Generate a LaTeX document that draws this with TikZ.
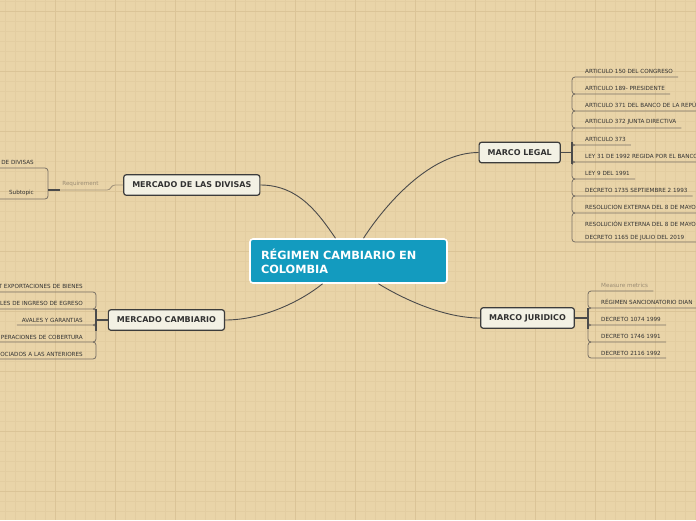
\documentclass[tikz,border=0pt]{standalone}
\usepackage{fontspec}
\setmainfont{DejaVu Sans}
\usetikzlibrary{calc}
\definecolor{bgc}{RGB}{233,212,168}
\definecolor{gridminor}{RGB}{227,205,161}
\definecolor{gridmajor}{RGB}{219,196,151}
\definecolor{centerfill}{RGB}{19,155,191}
\definecolor{topicfill}{RGB}{243,241,228}
\definecolor{topicdraw}{RGB}{60,60,60}
\definecolor{conn}{RGB}{75,75,75}
\definecolor{itemline}{RGB}{120,112,100}
\definecolor{itemtext}{RGB}{50,50,50}
\definecolor{labeltext}{RGB}{155,140,115}
\definecolor{relline}{RGB}{165,150,125}
\begin{document}
\begin{tikzpicture}[x=1pt,y=-1pt,
  centerbox/.style={draw=white, line width=1.6pt, fill=centerfill, rounded corners=3pt, text=white, font=\fontsize{11.3}{14}\selectfont\bfseries, align=left, text width=175pt, inner xsep=11pt, minimum height=44pt, inner ysep=0pt},
  topicbox/.style={draw=topicdraw, line width=1.2pt, fill=topicfill, rounded corners=2.5pt, text=itemtext, font=\fontsize{8}{9}\selectfont\bfseries, inner xsep=8.5pt, minimum height=20.5pt, inner ysep=0pt},
  itemtxt/.style={font=\fontsize{5.65}{6.5}\selectfont, text=itemtext, inner sep=0pt},
  labeltxt/.style={font=\fontsize{5.65}{6.5}\selectfont, text=labeltext, inner sep=0pt},
  conline/.style={draw=conn, line width=0.9pt},
  itline/.style={draw=itemline, line width=0.8pt, rounded corners=3pt},
  darkline/.style={draw=conn, line width=1.3pt},
  relstyle/.style={draw=relline, line width=0.8pt, rounded corners=3pt},
]
% background and grid
\fill[bgc] (0,0) rectangle (696,520);
\useasboundingbox (0,0) rectangle (696,520);
\foreach \x in {5,15,...,695} \draw[gridminor, line width=0.6pt] (\x,0) -- (\x,520);
\foreach \y in {1,11,...,520} \draw[gridminor, line width=0.6pt] (0,\y) -- (696,\y);
\foreach \x in {55,115,...,695} \draw[gridmajor, line width=0.8pt] (\x,0) -- (\x,520);
\foreach \y in {11,71,...,520} \draw[gridmajor, line width=0.8pt] (0,\y) -- (696,\y);

% main nodes
\node[centerbox] (c) at (348.5,261) {RÉGIMEN CAMBIARIO EN\\COLOMBIA};
\node[topicbox] (mdiv) at (191.8,185) {MERCADO DE LAS DIVISAS};
\node[topicbox] (mcam) at (166.4,320) {MERCADO CAMBIARIO};
\node[topicbox] (mlegal) at (519.7,152.5) {MARCO LEGAL};
\node[topicbox] (mjur) at (527.5,318) {MARCO JURIDICO};

% central connectors
\draw[conline] ([xshift=-13pt]c.north) .. controls (320,216) and (300,185) .. (mdiv.east);
\draw[conline] ([xshift=15pt]c.north) .. controls (385,205) and (430,152.5) .. (mlegal.west);
\draw[conline] ([xshift=-26pt]c.south) .. controls (300,302) and (262,320) .. (mcam.east);
\draw[conline] ([xshift=30pt]c.south) .. controls (405,300) and (445,318) .. (mjur.west);

% MARCO LEGAL items
\node[itemtxt, anchor=west] (l1) at (585,71) {ARTICULO 150 DEL CONGRESO};
\node[itemtxt, anchor=west] (l2) at (585,88) {ARTICULO 189- PRESIDENTE};
\node[itemtxt, anchor=west] (l3) at (585,105) {ARTICULO 371 DEL BANCO DE LA REPÚ};
\node[itemtxt, anchor=west] (l4) at (585,122) {ARTICULO 372 JUNTA DIRECTIVA};
\node[itemtxt, anchor=west] (l5) at (585,139) {ARTICULO 373};
\node[itemtxt, anchor=west] (l6) at (585,156) {LEY 31 DE 1992 REGIDA POR EL BANCO};
\node[itemtxt, anchor=west] (l7) at (585,173) {LEY 9 DEL 1991};
\node[itemtxt, anchor=west] (l8) at (585,190) {DECRETO 1735 SEPTIEMBRE 2 1993};
\node[itemtxt, anchor=west] (l9) at (585,207) {RESOLUCION EXTERNA DEL 8 DE MAYO};
\node[itemtxt, anchor=west, align=left, font=\fontsize{5.65}{13}\selectfont] (l10) at (585,230.5) {RESOLUCIÓN EXTERNA DEL 8 DE MAYO\\DECRETO 1165 DE JULIO DEL 2019};

\draw[itline] ($(l1.east)+(5,6)$) -- (572,77) -- (572,94) -- ($(l2.east)+(5,6)$);
\draw[itline] (575,94) -- (572,94) -- (572,111) -- (700,111);
\draw[itline] (575,111) -- (572,111) -- (572,128) -- ($(l4.east)+(5,6)$);
\draw[itline] (575,128) -- (572,128) -- (572,145) -- ($(l5.east)+(5,6)$);
\draw[itline] (575,145) -- (572,145) -- (572,162) -- (700,162);
\draw[itline] (575,162) -- (572,162) -- (572,179) -- ($(l7.east)+(5,6)$);
\draw[itline] (575,179) -- (572,179) -- (572,196) -- ($(l8.east)+(5,6)$);
\draw[itline] (575,196) -- (572,196) -- (572,213) -- (700,213);
\draw[itline] (575,213) -- (572,213) -- (572,242) -- (700,242);
\coordinate (tl) at (572,152.5);
\draw[darkline] (mlegal.east) -- (tl);
\draw[darkline] (572,142) -- (572,164);

% MARCO JURIDICO items
\node[labeltxt, anchor=west] (j0) at (601,285) {Measure metrics};
\node[itemtxt, anchor=west] (j1) at (601,302) {RÉGIMEN SANCIONATORIO DIAN};
\node[itemtxt, anchor=west] (j2) at (601,319) {DECRETO 1074 1999};
\node[itemtxt, anchor=west] (j3) at (601,336) {DECRETO 1746 1991};
\node[itemtxt, anchor=west] (j4) at (601,353) {DECRETO 2116 1992};
\draw[itline] ($(j0.east)+(5,6)$) -- (588,291) -- (588,308) -- (700,308);
\draw[itline] (591,308) -- (588,308) -- (588,325) -- ($(j2.east)+(5,6)$);
\draw[itline] (591,325) -- (588,325) -- (588,342) -- ($(j3.east)+(5,6)$);
\draw[itline] (591,342) -- (588,342) -- (588,358) -- ($(j4.east)+(5,5)$);
\coordinate (tj) at (588,318);
\draw[darkline] (mjur.east) -- (tj);
\draw[darkline] (588,308) -- (588,329);

% MERCADO CAMBIARIO items
\node[itemtxt, anchor=east] (c1) at (83,286) {T EXPORTACIONES DE BIENES};
\node[itemtxt, anchor=east] (c2) at (83,303) {ALES DE INGRESO DE EGRESO};
\node[itemtxt, anchor=east] (c3) at (83,320) {AVALES Y GARANTIAS};
\node[itemtxt, anchor=east] (c4) at (83,337) {PERACIONES DE COBERTURA};
\node[itemtxt, anchor=east] (c5) at (83,354) {OCIADOS A LAS ANTERIORES};
\draw[itline] (-2,292) -- (96,292) -- (96,309) -- (-2,309);
\draw[itline] (93,309) -- (96,309) -- (96,325) -- ($(c3.west)+(-5,5)$);
\draw[itline] (93,325) -- (96,325) -- (96,342) -- (-2,342);
\draw[itline] (93,342) -- (96,342) -- (96,359) -- (-2,359);
\coordinate (tc) at (96,320);
\draw[darkline] (mcam.west) -- (tc);
\draw[darkline] (96,309) -- (96,331);

% MERCADO DE LAS DIVISAS items
\node[itemtxt, anchor=east] (d1) at (34,162) {DE DIVISAS};
\node[itemtxt, anchor=east] (d2) at (34,193) {Subtopic};
\draw[itline] (-2,168) -- (48,168) -- (48,199) -- (-2,199);
\coordinate (td) at (48,190);
\coordinate (tdm) at (60,190);
\draw[darkline] (td) -- (tdm);
\draw[relstyle] (tdm) -- (110,190) -- (112,185) -- (mdiv.west);
\node[labeltxt] (req) at (80.5,184) {Requirement};
\end{tikzpicture}
\end{document}
